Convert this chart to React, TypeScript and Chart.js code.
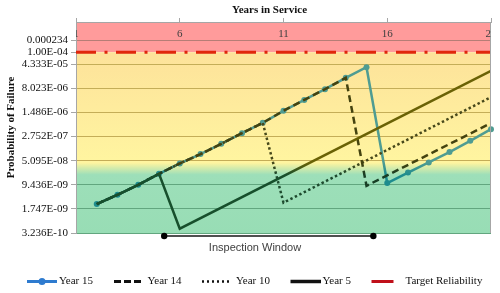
import React, { useEffect, useRef } from "react";
import { Chart, registerables } from "chart.js";

Chart.register(...registerables);

// ---------- data ----------
const YEARS = [2, 3, 4, 5, 6, 7, 8, 9, 10, 11, 12, 13, 14, 15, 16, 17, 18, 19, 20, 21];

const YEAR_15 = [
  2.45e-9, 4.69e-9, 9.43e-9, 2.03e-8, 4.17e-8, 8.04e-8, 1.65e-7, 3.48e-7, 7.14e-7, 1.66e-6,
  3.56e-6, 7.52e-6, 1.67e-5, 3.49e-5, 1.06e-8, 2.22e-8, 4.48e-8, 9.25e-8, 2.04e-7, 4.6e-7,
];
const YEAR_14 = [
  2.45e-9, 4.69e-9, 9.43e-9, 2.03e-8, 4.17e-8, 8.04e-8, 1.65e-7, 3.48e-7, 7.14e-7, 1.66e-6,
  3.56e-6, 7.52e-6, 1.67e-5, 8.79e-9, null, null, null, null, null, 7.0e-7,
];
const YEAR_10 = [
  2.45e-9, 4.69e-9, 9.43e-9, 2.03e-8, 4.17e-8, 8.04e-8, 1.65e-7, 3.48e-7, 7.14e-7, 2.69e-9,
  null, null, null, null, null, null, null, null, null, 4.31e-6,
];
const YEAR_5 = [
  2.45e-9, 4.69e-9, 9.43e-9, 2.03e-8, 4.37e-10, null, null, null, null, null,
  null, null, null, null, null, null, null, null, null, 2.7e-5,
];
const TARGET_YEARS = [1, 21];
const TARGET = [1e-4, 1e-4];

const SERIES_LABELS = ["Year 15", "Year 14", "Year 10", "Year 5", "Target Reliability"];

const X_TICKS = [1, 6, 11, 16, 21];
const Y_TICKS = [3.236e-10, 1.747e-9, 9.436e-9, 5.095e-8, 2.752e-7, 1.486e-6, 8.023e-6, 4.333e-5, 1.0e-4, 2.34e-4];
const Y_TICK_LABELS = [
  "3.236E-10", "1.747E-09", "9.436E-09", "5.095E-08", "2.752E-07",
  "1.486E-06", "8.023E-06", "4.333E-05", "1.00E-04", "0.000234",
];

const X_TITLE = "Years in Service";
const Y_TITLE = "Probability of Failure";
const WINDOW_LABEL = "Inspection Window";
const INSPECTION_START = 5.25;
const INSPECTION_END = 15.33;

// zone limits (probability)
const RED_LIMIT = 1e-4;
const YELLOW_END = 4.4e-8;
const GREEN_START = 1.9e-8;

const Y_MIN = 3.236e-10;
const Y_MAX = 8.25e-4;

const SERIF = '"Liberation Serif", "Times New Roman", serif';
const SANS = '"Liberation Sans", Arial, sans-serif';

function pts(xs: number[], ys: (number | null)[]) {
  return xs.map((x, i) => ({ x, y: ys[i] }));
}

function zoneGradient(yellow: string, green: string) {
  return (ctx: any) => {
    const chart = ctx.chart;
    const a = chart.chartArea;
    const ys = chart.scales && chart.scales.y;
    if (!a || !ys) return yellow;
    const g = chart.ctx.createLinearGradient(0, a.top, 0, a.bottom);
    const h = a.bottom - a.top;
    const p1 = Math.min(1, Math.max(0, (ys.getPixelForValue(YELLOW_END) - a.top) / h));
    const p2 = Math.min(1, Math.max(p1, (ys.getPixelForValue(GREEN_START) - a.top) / h));
    g.addColorStop(0, yellow);
    g.addColorStop(p1, yellow);
    g.addColorStop(p2, green);
    g.addColorStop(1, green);
    return g;
  };
}

const decorPlugin = {
  id: "decor",
  beforeDraw(chart: any) {
    const { ctx, chartArea: a, scales } = chart;
    const y = scales.y;
    const yT = y.getPixelForValue(RED_LIMIT);
    const y1 = y.getPixelForValue(YELLOW_END);
    const y2 = y.getPixelForValue(GREEN_START);
    ctx.save();
    ctx.fillStyle = "#ff9b9b";
    ctx.fillRect(a.left, a.top, a.right - a.left, yT - a.top);
    const h = a.bottom - yT;
    const g = ctx.createLinearGradient(0, yT, 0, a.bottom);
    g.addColorStop(0, "#fde29a");
    g.addColorStop((y1 - yT) / h, "#fff5a0");
    g.addColorStop((y2 - yT) / h, "#9ddfb9");
    g.addColorStop(1, "#98ddb5");
    ctx.fillStyle = g;
    ctx.fillRect(a.left, yT, a.right - a.left, a.bottom - yT);
    ctx.restore();
  },
  afterDraw(chart: any) {
    const { ctx, chartArea: a, scales } = chart;
    const xs = scales.x;
    ctx.save();
    // right border
    ctx.strokeStyle = "#a6a6a6";
    ctx.lineWidth = 1;
    ctx.beginPath();
    ctx.moveTo(Math.round(a.right) - 0.5, a.top);
    ctx.lineTo(Math.round(a.right) - 0.5, a.bottom);
    ctx.stroke();

    // x tick labels inside the plot, clipped to the area
    ctx.save();
    ctx.beginPath();
    ctx.rect(a.left, a.top, a.right - a.left, a.bottom - a.top);
    ctx.clip();
    ctx.fillStyle = "#404040";
    ctx.font = `11px ${SERIF}`;
    ctx.textAlign = "center";
    ctx.textBaseline = "middle";
    X_TICKS.forEach((v) => ctx.fillText(String(v), xs.getPixelForValue(v), a.top + 12.5));
    ctx.restore();

    // axis titles
    ctx.fillStyle = "#111";
    ctx.font = `bold 11px ${SERIF}`;
    ctx.textAlign = "center";
    ctx.textBaseline = "middle";
    ctx.fillText(X_TITLE, 269.5, 10.5);
    ctx.save();
    ctx.translate(11.5, (a.top + a.bottom) / 2);
    ctx.rotate(-Math.PI / 2);
    ctx.fillText(Y_TITLE, 0, 0);
    ctx.restore();

    // inspection window bracket
    const x1 = xs.getPixelForValue(INSPECTION_START);
    const x2 = xs.getPixelForValue(INSPECTION_END);
    const yb = a.bottom + 3;
    ctx.strokeStyle = "#505050";
    ctx.lineWidth = 2;
    ctx.beginPath();
    ctx.moveTo(x1, yb);
    ctx.lineTo(x2, yb);
    ctx.stroke();
    ctx.fillStyle = "#000";
    [x1, x2].forEach((x) => {
      ctx.beginPath();
      ctx.arc(x, yb, 3.2, 0, Math.PI * 2);
      ctx.fill();
    });
    ctx.fillStyle = "#404040";
    ctx.font = `11px ${SANS}`;
    ctx.fillText(WINDOW_LABEL, 255, 247.5);

    // legend
    const ly = 281.5;
    const items = [
      { x0: 27, x1: 57, tx: 59, color: "#2e7bcf", dash: [] as number[], w: 3, marker: true },
      { x0: 114, x1: 143.5, tx: 147.5, color: "#111", dash: [7, 3], w: 3, marker: false },
      { x0: 202, x1: 232, tx: 236, color: "#111", dash: [2, 3], w: 2.5, marker: false },
      { x0: 290.5, x1: 321, tx: 322.5, color: "#111", dash: [] as number[], w: 3.5, marker: false },
      { x0: 371.5, x1: 393.5, tx: 405.5, color: "#c0101a", dash: [] as number[], w: 3, marker: false },
    ];
    items.forEach((it, i) => {
      ctx.save();
      ctx.strokeStyle = it.color;
      ctx.lineWidth = it.w;
      ctx.setLineDash(it.dash);
      ctx.beginPath();
      ctx.moveTo(it.x0, ly);
      ctx.lineTo(it.x1, ly);
      ctx.stroke();
      if (it.marker) {
        ctx.fillStyle = it.color;
        ctx.beginPath();
        ctx.arc((it.x0 + it.x1) / 2, ly, 3.5, 0, Math.PI * 2);
        ctx.fill();
      }
      ctx.restore();
      ctx.fillStyle = "#111";
      ctx.font = `11px ${SERIF}`;
      ctx.textAlign = "left";
      ctx.textBaseline = "middle";
      ctx.fillText(chart.data.datasets[i].label, it.tx, ly);
    });
    ctx.restore();
  },
};

function gridColor(ctx: any) {
  const v = ctx.tick ? ctx.tick.value : 0;
  if (v > RED_LIMIT * 1.01) return "#b67d76";
  if (v >= RED_LIMIT * 0.99) return "rgba(0,0,0,0)";
  if (v > YELLOW_END) return "#c4ad58";
  return "#62a67f";
}

export default function App() {
  const ref = useRef<HTMLCanvasElement | null>(null);

  useEffect(() => {
    document.body.style.margin = "0";
    const canvas = ref.current;
    if (!canvas) return;
    const chart = new Chart(canvas, {
      type: "line",
      data: {
        datasets: [
          {
            label: SERIES_LABELS[0],
            data: pts(YEARS, YEAR_15),
            borderColor: zoneGradient("#4f9c92", "#1e8c8e"),
            backgroundColor: zoneGradient("#4f9c92", "#1e8c8e"),
            pointBackgroundColor: zoneGradient("#4f9c92", "#1e8c8e"),
            pointBorderColor: zoneGradient("#4f9c92", "#1e8c8e"),
            borderWidth: 2.5,
            pointRadius: 3,
            pointBorderWidth: 0,
            tension: 0,
            spanGaps: true,
            order: 3,
            clip: 4,
          },
          {
            label: SERIES_LABELS[1],
            data: pts(YEARS, YEAR_14),
            borderColor: zoneGradient("#44430f", "#183e25"),
            borderWidth: 2.5,
            borderDash: [7, 4],
            pointRadius: 0,
            tension: 0,
            spanGaps: true,
            order: 1,
          },
          {
            label: SERIES_LABELS[2],
            data: pts(YEARS, YEAR_10),
            borderColor: zoneGradient("#47481a", "#1d4a2e"),
            borderWidth: 2.5,
            borderDash: [2.5, 2.5],
            pointRadius: 0,
            tension: 0,
            spanGaps: true,
            order: 2,
          },
          {
            label: SERIES_LABELS[3],
            data: pts(YEARS, YEAR_5),
            borderColor: zoneGradient("#6a6205", "#174f2c"),
            borderWidth: 2.5,
            pointRadius: 0,
            tension: 0,
            spanGaps: true,
            order: 0,
          },
          {
            label: SERIES_LABELS[4],
            data: pts(TARGET_YEARS, TARGET),
            borderColor: "#e0260c",
            borderWidth: 3,
            borderDash: [20, 8.5, 3, 8.5],
            pointRadius: 0,
            tension: 0,
            order: 4,
          },
        ],
      },
      options: {
        animation: false,
        responsive: false,
        events: [],
        layout: { padding: { left: 0, right: 9, top: 0, bottom: 60 } },
        plugins: { legend: { display: false }, tooltip: { enabled: false }, title: { display: false } },
        scales: {
          x: {
            type: "linear",
            position: "top",
            min: 1,
            max: 21,
            afterBuildTicks: (s: any) => {
              s.ticks = X_TICKS.map((v) => ({ value: v }));
            },
            afterFit: (s: any) => {
              s.height = 22;
            },
            ticks: { display: false },
            grid: { drawOnChartArea: false, drawTicks: true, tickLength: 4, tickColor: "#a6a6a6" },
            border: { display: true, color: "#a6a6a6" },
          },
          y: {
            type: "logarithmic",
            min: Y_MIN,
            max: Y_MAX,
            afterBuildTicks: (s: any) => {
              s.ticks = Y_TICKS.map((v) => ({ value: v }));
            },
            afterFit: (s: any) => {
              s.width = 76;
            },
            ticks: {
              autoSkip: false,
              padding: 3,
              color: "#111",
              font: { family: SERIF, size: 11 },
              callback: (_v: any, i: number) => Y_TICK_LABELS[i],
            },
            grid: { color: gridColor, tickColor: "#a6a6a6", tickLength: 5, lineWidth: 1 },
            border: { display: true, color: "#a6a6a6" },
          },
        },
      },
      plugins: [decorPlugin],
    } as any);
    return () => chart.destroy();
  }, []);

  return (
    <div style={{ width: 500, height: 293 }}>
      <canvas ref={ref} width={500} height={293} style={{ display: "block" }} />
    </div>
  );
}
